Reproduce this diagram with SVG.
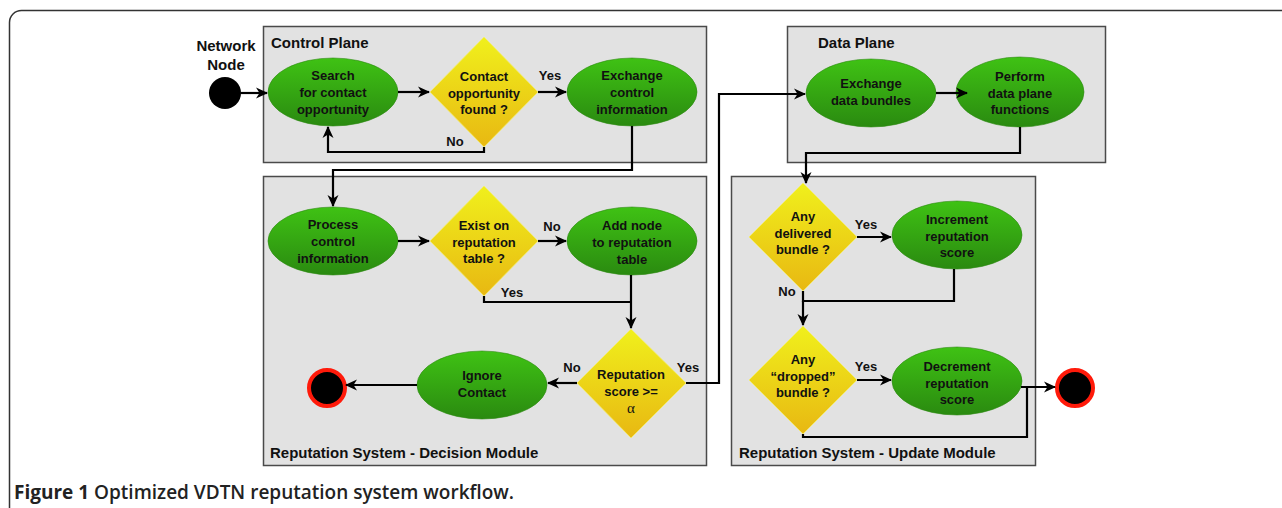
<svg xmlns="http://www.w3.org/2000/svg" width="1282" height="508" viewBox="0 0 1282 508">
<defs>
  <linearGradient id="gGreen" x1="0" y1="0" x2="0" y2="1">
    <stop offset="0" stop-color="#3fc214"/>
    <stop offset="1" stop-color="#2a8a10"/>
  </linearGradient>
  <linearGradient id="gYellow" x1="0" y1="0" x2="0" y2="1">
    <stop offset="0" stop-color="#f0f01c"/>
    <stop offset="1" stop-color="#e8b812"/>
  </linearGradient>
  <marker id="arr" viewBox="0 0 12 12" markerWidth="12" markerHeight="12" refX="11" refY="6" orient="auto" markerUnits="userSpaceOnUse">
    <path d="M0,0.5 L12,6 L0,11.5 L3.5,6 z" fill="#000"/>
  </marker>
</defs>
<style>
  .box { fill: #e2e2e2; stroke: #4a4a4a; stroke-width: 1.5; }
  .ell { fill: url(#gGreen); stroke: #2d8a12; stroke-width: 0.6; }
  .dia { fill: url(#gYellow); stroke: #f4ee70; stroke-width: 0.8; }
  .t { font-family: "Liberation Sans", Arial, sans-serif; font-weight: bold; font-size: 13px; fill: #111; text-anchor: middle; }
  .title { font-family: "Liberation Sans", Arial, sans-serif; font-weight: bold; font-size: 15px; fill: #111; }
  .lbl { font-family: "Liberation Sans", Arial, sans-serif; font-weight: bold; font-size: 13px; fill: #111; text-anchor: middle; }
  .conn { fill: none; stroke: #000; stroke-width: 2.2; }
  .end { fill: #000; stroke: #ff1a0a; stroke-width: 4; }
</style>

<path d="M9.5,520 V22.5 A12,12 0 0 1 21.5,10.5 H1300" fill="none" stroke="#333" stroke-width="1.5"/>

<g id="control-plane">
  <rect class="box" x="263.5" y="26.5" width="443" height="136"/>
  <text class="title" x="271" y="48">Control Plane</text>
</g>
<g id="data-plane">
  <rect class="box" x="787.5" y="26.5" width="318" height="136"/>
  <text class="title" x="818" y="48">Data Plane</text>
</g>
<g id="decision-module">
  <rect class="box" x="263.5" y="176.5" width="443" height="289"/>
  <text class="title" x="270" y="458">Reputation System - Decision Module</text>
</g>
<g id="update-module">
  <rect class="box" x="731.5" y="176.5" width="304" height="289"/>
  <text class="title" x="739" y="458">Reputation System - Update Module</text>
</g>

<g id="network-node">
  <text class="lbl" style="font-size:15px" x="226" y="51">Network</text>
  <text class="lbl" style="font-size:15px" x="226" y="70">Node</text>
  <circle cx="225" cy="93" r="16" fill="#000"/>
</g>

<g id="search">
  <ellipse class="ell" cx="333" cy="92" rx="65" ry="34"/>
  <text class="t" x="333" y="80">Search</text>
  <text class="t" x="333" y="97">for contact</text>
  <text class="t" x="333" y="114">opportunity</text>
</g>
<g id="contact-found">
  <polygon class="dia" points="484,37 538,92 484,147 430,92"/>
  <text class="t" x="484" y="81">Contact</text>
  <text class="t" x="484" y="98">opportunity</text>
  <text class="t" x="484" y="114">found ?</text>
</g>
<g id="exchange-control">
  <ellipse class="ell" cx="632" cy="92" rx="65" ry="34"/>
  <text class="t" x="632" y="80">Exchange</text>
  <text class="t" x="632" y="97">control</text>
  <text class="t" x="632" y="114">information</text>
</g>

<g id="process-control">
  <ellipse class="ell" cx="333" cy="241" rx="65" ry="34"/>
  <text class="t" x="333" y="229">Process</text>
  <text class="t" x="333" y="246">control</text>
  <text class="t" x="333" y="263">information</text>
</g>
<g id="exist-table">
  <polygon class="dia" points="484,186 538,241 484,296 430,241"/>
  <text class="t" x="484" y="230">Exist on</text>
  <text class="t" x="484" y="247">reputation</text>
  <text class="t" x="484" y="263">table ?</text>
</g>
<g id="add-node">
  <ellipse class="ell" cx="632" cy="241" rx="65" ry="34"/>
  <text class="t" x="632" y="230">Add node</text>
  <text class="t" x="632" y="247">to reputation</text>
  <text class="t" x="632" y="264">table</text>
</g>
<g id="reputation-score">
  <polygon class="dia" points="631,329 686,383 631,438 577,383"/>
  <text class="t" x="631" y="379">Reputation</text>
  <text class="t" x="631" y="396">score &gt;=</text>
  <text class="t" x="631" y="413" style="font-family:'Liberation Serif',serif;font-weight:normal;font-size:15px">α</text>
</g>
<g id="ignore-contact">
  <ellipse class="ell" cx="482" cy="385" rx="65" ry="34"/>
  <text class="t" x="482" y="380">Ignore</text>
  <text class="t" x="482" y="397">Contact</text>
</g>
<g id="end-decision">
  <circle class="end" cx="327" cy="388" r="18"/>
</g>

<g id="exchange-data">
  <ellipse class="ell" cx="871" cy="93" rx="65" ry="34"/>
  <text class="t" x="871" y="88">Exchange</text>
  <text class="t" x="871" y="105">data bundles</text>
</g>
<g id="perform-data">
  <ellipse class="ell" cx="1020" cy="92" rx="64" ry="35"/>
  <text class="t" x="1020" y="81">Perform</text>
  <text class="t" x="1020" y="98">data plane</text>
  <text class="t" x="1020" y="114">functions</text>
</g>

<g id="delivered">
  <polygon class="dia" points="803,183 857,237 803,291 749,237"/>
  <text class="t" x="803" y="221">Any</text>
  <text class="t" x="803" y="238">delivered</text>
  <text class="t" x="803" y="254">bundle ?</text>
</g>
<g id="increment">
  <ellipse class="ell" cx="957" cy="235" rx="65" ry="34"/>
  <text class="t" x="957" y="224">Increment</text>
  <text class="t" x="957" y="241">reputation</text>
  <text class="t" x="957" y="257">score</text>
</g>
<g id="dropped">
  <polygon class="dia" points="803,326 857,380 803,434 749,380"/>
  <text class="t" x="803" y="364">Any</text>
  <text class="t" x="803" y="381">“dropped”</text>
  <text class="t" x="803" y="397">bundle ?</text>
</g>
<g id="decrement">
  <ellipse class="ell" cx="957" cy="381" rx="65" ry="34"/>
  <text class="t" x="957" y="371">Decrement</text>
  <text class="t" x="957" y="388">reputation</text>
  <text class="t" x="957" y="404">score</text>
</g>
<g id="end-update">
  <circle class="end" cx="1075" cy="388" r="18"/>
</g>

<g id="connectors">
  <path class="conn" d="M241,93 H267" marker-end="url(#arr)"/>
  <path class="conn" d="M398,92 H429" marker-end="url(#arr)"/>
  <path class="conn" d="M538,92 H566" marker-end="url(#arr)"/>
  <path class="conn" d="M484,147 V152 H328 V127" marker-end="url(#arr)"/>
  <path class="conn" d="M632,126 V170 H333 V206" marker-end="url(#arr)"/>
  <path class="conn" d="M398,241 H429" marker-end="url(#arr)"/>
  <path class="conn" d="M538,241 H566" marker-end="url(#arr)"/>
  <path class="conn" d="M484,296 V302 H631"/>
  <path class="conn" d="M631,275 V328" marker-end="url(#arr)"/>
  <path class="conn" d="M686,383 H719 V94 H805" marker-end="url(#arr)"/>
  <path class="conn" d="M577,383 H548" marker-end="url(#arr)"/>
  <path class="conn" d="M417,385 H346" marker-end="url(#arr)"/>
  <path class="conn" d="M936,93 H967" marker-end="url(#arr)"/>
  <path class="conn" d="M1020,127 V153 H806 V183" marker-end="url(#arr)"/>
  <path class="conn" d="M857,237 H891" marker-end="url(#arr)"/>
  <path class="conn" d="M803,291 V301 H954 V269"/>
  <path class="conn" d="M803,301 V325" marker-end="url(#arr)"/>
  <path class="conn" d="M857,380 H891" marker-end="url(#arr)"/>
  <path class="conn" d="M1021,387 H1055" marker-end="url(#arr)"/>
  <path class="conn" d="M803,434 V437 H1027 V387"/>
  <text class="lbl" x="550" y="80">Yes</text>
  <text class="lbl" x="455" y="146">No</text>
  <text class="lbl" x="552" y="231">No</text>
  <text class="lbl" x="512" y="297">Yes</text>
  <text class="lbl" x="688" y="372">Yes</text>
  <text class="lbl" x="572" y="372">No</text>
  <text class="lbl" x="866" y="229">Yes</text>
  <text class="lbl" x="787" y="296">No</text>
  <text class="lbl" x="866" y="371">Yes</text>
</g>

<g id="caption">
  <text x="14" y="499" style="font-family:'Open Sans','Noto Sans',sans-serif;font-size:19px;font-weight:600;fill:#222"><tspan font-weight="bold">Figure 1</tspan> Optimized VDTN reputation system workflow.</text>
</g>
</svg>
